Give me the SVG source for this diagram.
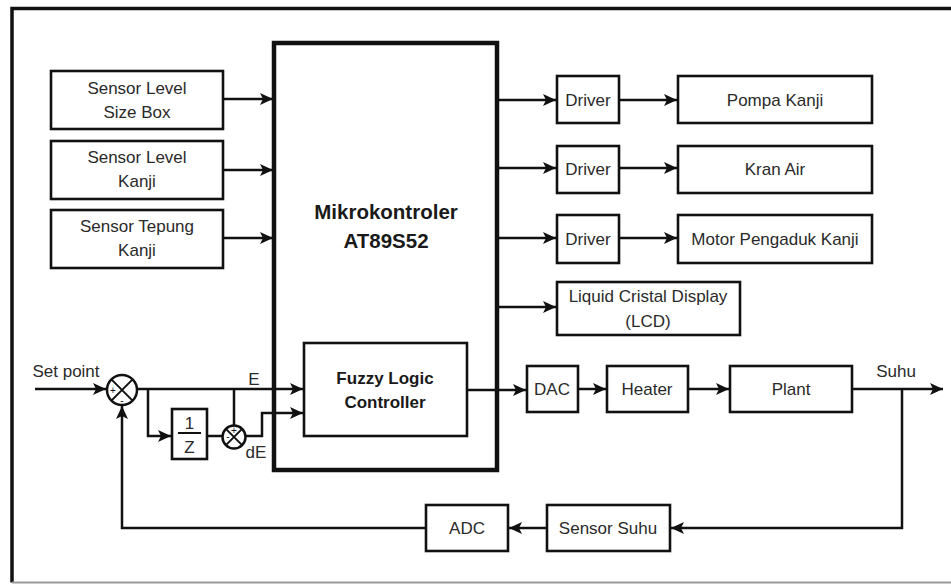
<svg xmlns="http://www.w3.org/2000/svg" width="951" height="584" viewBox="0 0 951 584">
<style>
.box{fill:#fff;stroke:#111;stroke-width:2.6}
.big{fill:#fff;stroke:#111;stroke-width:4.5}
.t{font-family:"Liberation Sans",Arial,sans-serif;font-size:17px;fill:#2a2a2a;text-anchor:middle}
.b{font-family:"Liberation Sans",Arial,sans-serif;font-weight:bold;fill:#1a1a1a;text-anchor:middle}
.c{fill:none;stroke:#111;stroke-width:2.5}
.s{font-family:"Liberation Sans",Arial,sans-serif;font-size:10px;fill:#111;text-anchor:middle}
</style>
<defs>
<marker id="ah" markerUnits="userSpaceOnUse" markerWidth="14" markerHeight="14" viewBox="0 0 14 14" refX="13" refY="7" orient="auto">
<path d="M0,1 L13,7 L0,13 L3,7 Z" fill="#111"/>
</marker>
</defs>
<rect width="951" height="584" fill="#fff"/>
<path d="M951,8.5 H12 V582.5" fill="none" stroke="#111" stroke-width="3.5"/>
<path d="M12,582.5 H951" fill="none" stroke="#999" stroke-width="2"/>

<g id="micro"><rect class="big" x="274" y="43" width="223" height="427"/>
<text class="b" font-size="20.5" x="386" y="219">Mikrokontroler</text>
<text class="b" font-size="20.5" x="386" y="248">AT89S52</text></g>

<g id="s1"><rect class="box" x="51" y="71" width="172" height="58"/>
<text class="t" x="137" y="94">Sensor Level</text><text class="t" x="137" y="118">Size Box</text></g>
<g id="s2"><rect class="box" x="51" y="141" width="172" height="58"/>
<text class="t" x="137" y="163">Sensor Level</text><text class="t" x="137" y="187">Kanji</text></g>
<g id="s3"><rect class="box" x="51" y="210" width="172" height="58"/>
<text class="t" x="137" y="232">Sensor Tepung</text><text class="t" x="137" y="256">Kanji</text></g>

<g id="d1"><rect class="box" x="557" y="76" width="62" height="47"/><text class="t" x="588" y="106">Driver</text></g>
<g id="d2"><rect class="box" x="557" y="146" width="62" height="47"/><text class="t" x="588" y="175">Driver</text></g>
<g id="d3"><rect class="box" x="557" y="215" width="62" height="48"/><text class="t" x="588" y="245">Driver</text></g>
<g id="pompa"><rect class="box" x="678" y="76" width="194" height="47"/><text class="t" x="775" y="106">Pompa Kanji</text></g>
<g id="kran"><rect class="box" x="678" y="146" width="194" height="47"/><text class="t" x="775" y="175">Kran Air</text></g>
<g id="motor"><rect class="box" x="678" y="215" width="194" height="48"/><text class="t" x="775" y="245">Motor Pengaduk Kanji</text></g>
<g id="lcd"><rect class="box" x="557" y="282" width="183" height="53"/>
<text class="t" x="648" y="302">Liquid Cristal Display</text><text class="t" x="648" y="327">(LCD)</text></g>

<g id="flc"><rect class="box" x="304" y="343" width="163" height="93"/>
<text class="b" font-size="17" x="385" y="384">Fuzzy Logic</text>
<text class="b" font-size="17" x="385" y="408">Controller</text></g>

<g id="dac"><rect class="box" x="527" y="366" width="51" height="46"/><text class="t" x="552" y="395">DAC</text></g>
<g id="heater"><rect class="box" x="607" y="366" width="81" height="46"/><text class="t" x="647" y="395">Heater</text></g>
<g id="plant"><rect class="box" x="730" y="366" width="122" height="46"/><text class="t" x="791" y="395">Plant</text></g>
<g id="sensorsuhu"><rect class="box" x="547" y="505" width="123" height="46"/><text class="t" x="608" y="534">Sensor Suhu</text></g>
<g id="adc"><rect class="box" x="426" y="505" width="82" height="46"/><text class="t" x="467" y="534">ADC</text></g>

<g id="z"><rect class="box" x="172" y="409" width="35" height="50"/>
<text class="t" x="189.5" y="429">1</text>
<line x1="178" y1="433" x2="201" y2="433" stroke="#111" stroke-width="2"/>
<text class="t" x="189.5" y="453">Z</text></g>

<g id="sum1"><circle cx="122" cy="390" r="15" fill="#fff" stroke="#111" stroke-width="2.5"/>
<path d="M111.4,379.4 L132.6,400.6 M132.6,379.4 L111.4,400.6" stroke="#111" stroke-width="2"/>
<text class="s" x="113" y="394">+</text><text class="s" x="122" y="404">-</text></g>
<g id="sum2"><circle cx="234" cy="437" r="11.5" fill="#fff" stroke="#111" stroke-width="2.5"/>
<path d="M225.9,428.9 L242.1,445.1 M242.1,428.9 L225.9,445.1" stroke="#111" stroke-width="2"/>
<text class="s" x="234" y="434" font-size="8">+</text><text class="s" x="228" y="440" font-size="8">-</text></g>

<g id="labels">
<text class="t" x="66" y="377">Set point</text>
<text class="t" x="254" y="385">E</text>
<text class="t" x="256" y="458">dE</text>
<text class="t" x="896" y="377">Suhu</text>
</g>

<g id="connectors">
<path class="c" d="M223,99 H273" marker-end="url(#ah)"/>
<path class="c" d="M223,170 H273" marker-end="url(#ah)"/>
<path class="c" d="M223,238 H273" marker-end="url(#ah)"/>
<path class="c" d="M497,100 H556" marker-end="url(#ah)"/>
<path class="c" d="M497,168 H556" marker-end="url(#ah)"/>
<path class="c" d="M497,238 H556" marker-end="url(#ah)"/>
<path class="c" d="M497,307 H556" marker-end="url(#ah)"/>
<path class="c" d="M619,100 H677" marker-end="url(#ah)"/>
<path class="c" d="M619,168 H677" marker-end="url(#ah)"/>
<path class="c" d="M619,238 H677" marker-end="url(#ah)"/>
<path class="c" d="M35,389 H106" marker-end="url(#ah)"/>
<path class="c" d="M137,389 H303" marker-end="url(#ah)"/>
<path class="c" d="M148,389 V436 H171" marker-end="url(#ah)"/>
<path class="c" d="M207,436 H222.5"/>
<path class="c" d="M234,389 V425.5"/>
<path class="c" d="M245.5,436 H262 V413 H303" marker-end="url(#ah)"/>
<path class="c" d="M467,390 H526" marker-end="url(#ah)"/>
<path class="c" d="M578,389 H606" marker-end="url(#ah)"/>
<path class="c" d="M688,389 H729" marker-end="url(#ah)"/>
<path class="c" d="M852,389 H943" marker-end="url(#ah)"/>
<path class="c" d="M902,389 V528 H671" marker-end="url(#ah)"/>
<path class="c" d="M547,528 H509" marker-end="url(#ah)"/>
<path class="c" d="M426,528 H122 V406" marker-end="url(#ah)"/>
</g>
</svg>
